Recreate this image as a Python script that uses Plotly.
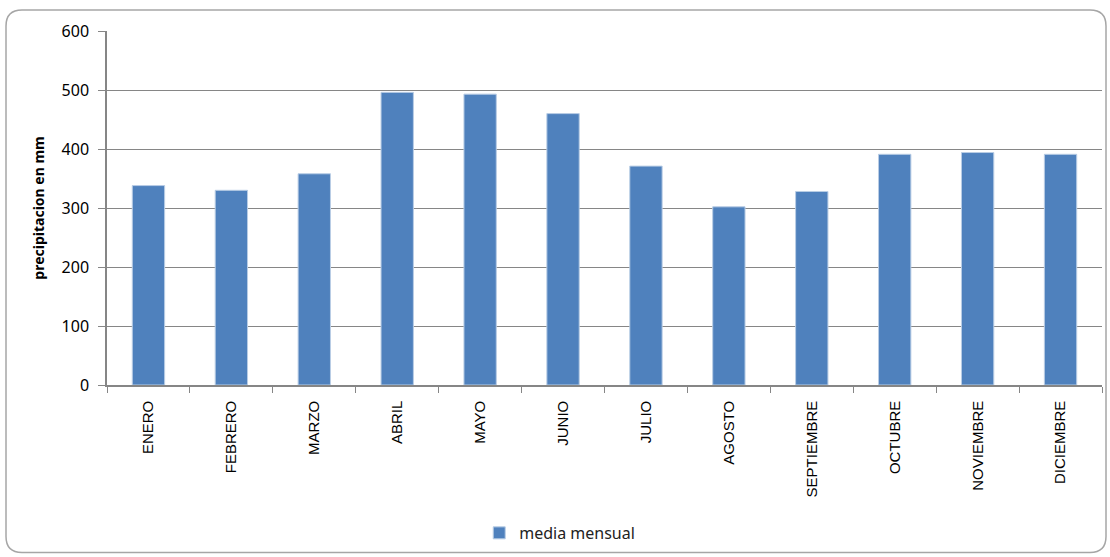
import plotly.graph_objects as go

meses = ["ENERO", "FEBRERO", "MARZO", "ABRIL", "MAYO", "JUNIO", "JULIO",
         "AGOSTO", "SEPTIEMBRE", "OCTUBRE", "NOVIEMBRE", "DICIEMBRE"]
media_mensual = [338, 330, 358, 496, 493, 460, 371, 302, 328, 391, 394, 391]
y_ticks = [0, 100, 200, 300, 400, 500, 600]

W, H = 1110, 557
L, R, T, B = 107, 8, 31, 171
pw, ph = W - L - R, H - T - B


def px(x):
    return (x - L) / pw


def py(y):
    return (H - B - y) / ph


fig = go.Figure()
fig.add_trace(go.Bar(
    x=meses, y=media_mensual, name="media mensual",
    marker=dict(color="#4F81BD", line=dict(color="#B9CDE5", width=1)),
    width=0.39,
))

# rounded outer border
x0, x1, y0, y1, r = 6, 1106, 10, 554, 16
path = (f"M {px(x0 + r)} {py(y0)} L {px(x1 - r)} {py(y0)} "
        f"Q {px(x1)} {py(y0)} {px(x1)} {py(y0 + r)} "
        f"L {px(x1)} {py(y1 - r)} Q {px(x1)} {py(y1)} {px(x1 - r)} {py(y1)} "
        f"L {px(x0 + r)} {py(y1)} Q {px(x0)} {py(y1)} {px(x0)} {py(y1 - r)} "
        f"L {px(x0)} {py(y0 + r)} Q {px(x0)} {py(y0)} {px(x0 + r)} {py(y0)} Z")
fig.add_shape(type="path", path=path, xref="paper", yref="paper",
              line=dict(color="#A6A6A6", width=1.5), layer="below")

fig.update_layout(
    width=W, height=H,
    margin=dict(l=L, r=R, t=T, b=B),
    paper_bgcolor="white", plot_bgcolor="white",
    showlegend=True,
    legend=dict(orientation="h", x=0.455, xanchor="center", y=-0.414, yanchor="middle",
                itemwidth=30,
                font=dict(family="Noto Sans", size=16, color="#222222")),
    bargap=0.6,
)
fig.update_xaxes(
    type="category", showline=True, linecolor="#868686", linewidth=1.5,
    ticks="outside", tickson="boundaries", ticklen=6, tickcolor="#868686",
    tickangle=-90, tickfont=dict(family="Liberation Sans", size=15, color="black"),
    showgrid=False, ticklabelstandoff=8,
)
fig.update_yaxes(
    range=[0, 600], tickvals=y_ticks, showline=True, linecolor="#868686", linewidth=1.5,
    ticks="outside", ticklen=7, tickcolor="#868686",
    showgrid=True, gridcolor="#868686", gridwidth=1.2,
    tickfont=dict(family="Noto Sans", size=16, color="black"),
    ticklabelstandoff=6,
    title=dict(text="<b>precipitacion en mm</b>", standoff=14,
               font=dict(family="Noto Sans", size=14, color="black")),
    zeroline=False,
)

fig.write_html("out.html")
